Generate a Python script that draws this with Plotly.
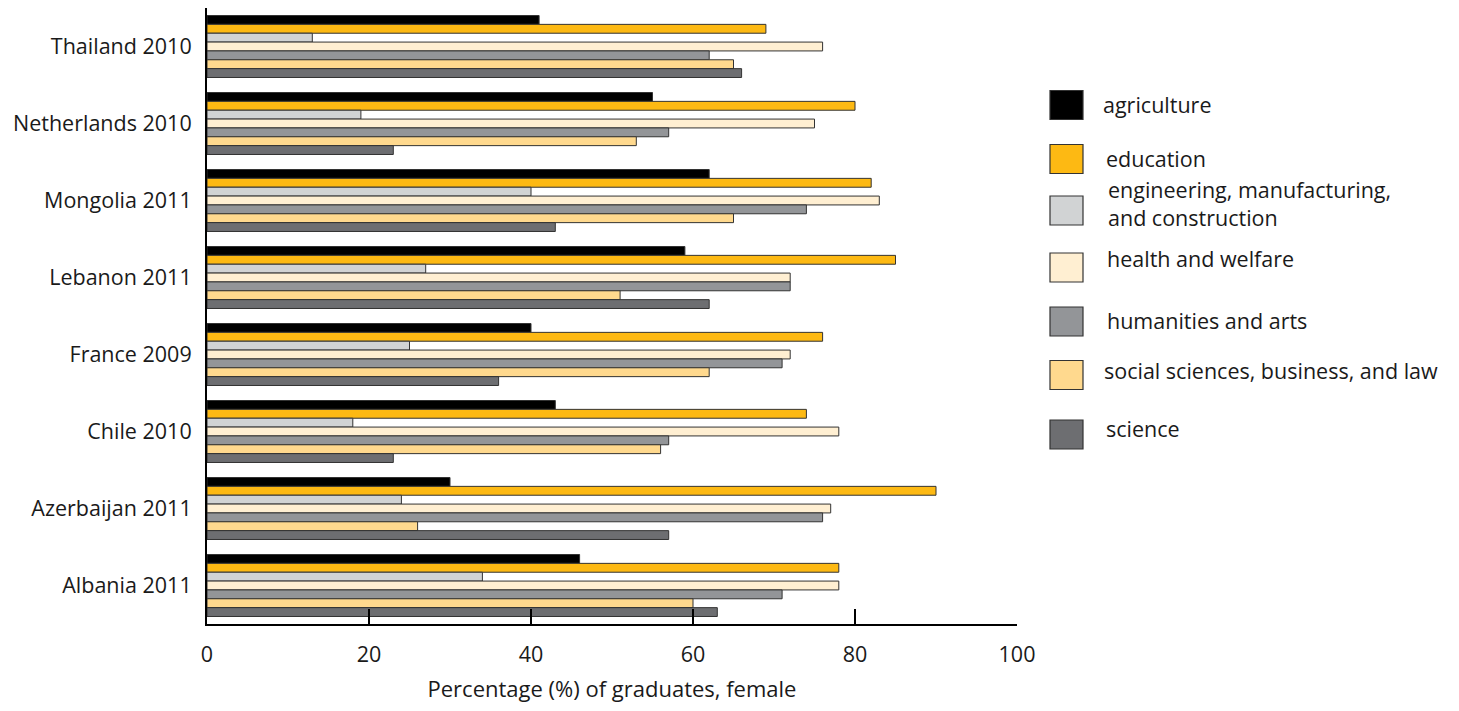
import plotly.graph_objects as go

countries = ["Thailand 2010", "Netherlands 2010", "Mongolia 2011", "Lebanon 2011",
             "France 2009", "Chile 2010", "Azerbaijan 2011", "Albania 2011"]

agriculture = [41, 55, 62, 59, 40, 43, 30, 46]
education = [69, 80, 82, 85, 76, 74, 90, 78]
engineering = [13, 19, 40, 27, 25, 18, 24, 34]
health = [76, 75, 83, 72, 72, 78, 77, 78]
humanities = [62, 57, 74, 72, 71, 57, 76, 71]
social = [65, 53, 65, 51, 62, 56, 26, 60]
science = [66, 23, 43, 62, 36, 23, 57, 63]

series_names = ["agriculture", "education", "engineering, manufacturing,<br>and construction",
                "health and welfare", "humanities and arts",
                "social sciences, business, and law", "science"]
series_values = [agriculture, education, engineering, health, humanities, social, science]
series_colors = ["#000000", "#FDB913", "#D1D3D4", "#FFEFD2", "#939598", "#FFD98E", "#6D6E71"]

x_ticks = [0, 20, 40, 60, 80, 100]

FONT = "Open Sans"
TXT = "#1a1a1a"

fig = go.Figure()
for name, vals, col in zip(series_names, series_values, series_colors):
    fig.add_trace(go.Bar(
        y=countries, x=vals, name=name, orientation="h",
        marker=dict(color=col, line=dict(color="#333333", width=1)),
        showlegend=False,
    ))

# The page body adds an 8px offset; target plot area in screen pixels:
OFF = 8
FIG_W, FIG_H = 1459 - OFF, 711 - OFF
L, R, T, B = 207, 1017, 8, 624
W, H = R - L, B - T

def px_x(p):
    return (p - L) / W

def px_y(p):
    return (B - p) / H

square_centers = [105, 159, 210.5, 267.5, 321.5, 375, 434.5]
text_centers = [104, 158, 203.5, 259, 320, 370, 428]
text_x = [1101, 1104, 1106, 1105, 1105, 1102, 1104]
shapes = []
annotations = []
for i, (name, col) in enumerate(zip(series_names, series_colors)):
    cy = square_centers[i]
    shapes.append(dict(type="rect", xref="paper", yref="paper",
                       x0=px_x(1050), x1=px_x(1083), y0=px_y(cy + 14.5), y1=px_y(cy - 14.5),
                       fillcolor=col, line=dict(color="#333333", width=1.2)))
    annotations.append(dict(xref="paper", yref="paper", x=px_x(text_x[i]), y=px_y(text_centers[i]),
                            text=name, showarrow=False, xanchor="left", yanchor="middle",
                            align="left", font=dict(family=FONT, size=21.5, color=TXT)))

fig.update_layout(
    barmode="group", bargap=0.195, bargroupgap=0,
    width=FIG_W, height=FIG_H,
    margin=dict(l=L - OFF, r=1459 - R, t=T - OFF, b=711 - B),
    plot_bgcolor="white", paper_bgcolor="white",
    font=dict(family=FONT, size=21.5, color=TXT),
    shapes=shapes, annotations=annotations,
    xaxis=dict(range=[0, 100], tickvals=x_ticks, ticktext=[str(v) for v in x_ticks],
               showgrid=False, zeroline=False, showline=True, linecolor="black", linewidth=2,
               ticks="inside", ticklen=15, tickwidth=2, tickcolor="black",
               ticklabelstandoff=10, tickfont=dict(family=FONT, size=21.5, color=TXT),
               title=dict(text="Percentage (%) of graduates, female", standoff=15,
                          font=dict(family=FONT, size=22, color=TXT))),
    yaxis=dict(range=[7.5, -0.5], showgrid=False, zeroline=False, showline=True,
               linecolor="black", linewidth=2, ticks="", ticklabelstandoff=9,
               tickfont=dict(family=FONT, size=21.5, color=TXT)),
)

fig.write_html("out.html")
